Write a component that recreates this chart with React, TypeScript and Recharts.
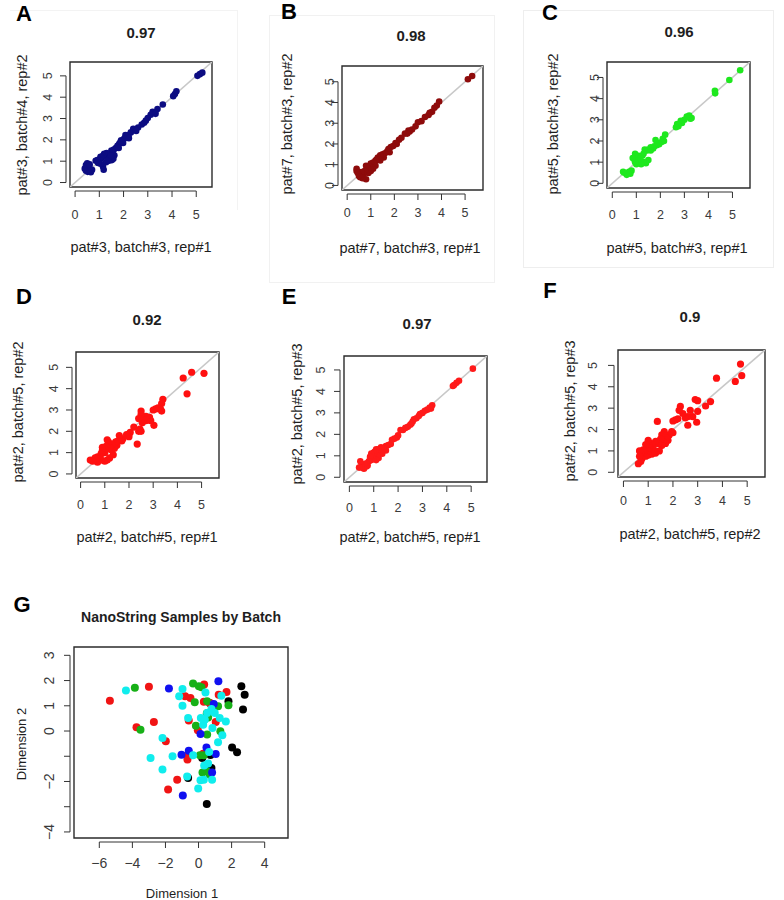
import React from "react";
import { ScatterChart, Scatter, XAxis, YAxis, ReferenceLine, ReferenceArea } from "recharts";

const FONT = '"Liberation Sans", Arial, Helvetica, sans-serif';

// replicate panels: [x (rep a), y (rep b)]
const ptsA: [number, number][] = [
  [5.05, 5.0], [5.15, 5.08], [5.25, 5.15],
  [4.05, 4.05], [4.12, 4.15], [4.18, 4.28],
  [3.62, 3.66], [3.4, 3.45], [3.3, 3.28], [3.2, 3.32], [3.12, 3.18], [3.0, 3.02], [2.92, 2.9],
  [2.85, 2.8], [2.75, 2.72], [2.6, 2.58], [2.5, 2.48], [2.4, 2.52], [2.3, 2.35], [2.2, 2.22],
  [2.15, 2.12], [2.08, 2.22], [2.02, 2.05], [1.98, 1.85], [1.9, 1.98], [1.82, 1.82], [1.75, 1.72],
  [1.68, 1.62], [1.6, 1.55], [1.55, 1.4], [1.5, 1.5], [1.45, 1.32], [1.42, 1.18], [1.35, 1.3],
  [1.3, 1.38], [1.25, 1.22], [1.2, 1.35], [1.15, 1.25], [1.1, 1.15], [1.05, 1.2], [1.0, 1.08],
  [0.92, 1.05], [0.85, 1.02], [1.52, 1.05], [1.58, 1.12], [1.4, 1.02], [1.28, 0.95], [1.15, 0.75],
  [1.18, 0.6], [1.05, 0.88], [0.95, 0.92], [0.5, 0.9], [0.45, 0.82], [0.58, 0.8], [0.4, 0.65],
  [0.45, 0.55], [0.52, 0.5], [0.62, 0.55], [0.7, 0.6], [0.65, 0.48], [0.6, 0.85], [1.62, 1.28],
  [1.8, 1.62], [2.52, 2.42], [3.32, 3.22], [2.22, 2.08], [1.88, 1.92], [1.35, 1.05], [1.48, 1.25],
];

const ptsB: [number, number][] = [
  [5.12, 5.12], [5.3, 5.28],
  [3.9, 4.05], [3.8, 3.85], [3.7, 3.75], [3.6, 3.55], [3.5, 3.5], [3.45, 3.4], [3.3, 3.3],
  [3.15, 3.1], [3.0, 3.05], [2.9, 2.85], [2.75, 2.7], [2.65, 2.6], [2.6, 2.65], [2.55, 2.5],
  [2.45, 2.5], [2.3, 2.3], [2.2, 2.2], [2.1, 2.0], [2.05, 2.05], [1.95, 1.9], [1.85, 1.85],
  [1.8, 1.6], [1.75, 1.75], [1.7, 1.65], [1.6, 1.55], [1.55, 1.35], [1.5, 1.5], [1.4, 1.45],
  [1.4, 1.2], [1.3, 1.35], [1.25, 1.25], [1.2, 1.2], [1.2, 0.95], [1.15, 1.0], [1.1, 1.1],
  [1.1, 0.8], [1.0, 1.05], [1.0, 0.9], [1.0, 0.7], [0.95, 0.9], [0.9, 0.8], [0.9, 0.6],
  [0.85, 0.85], [0.8, 0.95], [0.8, 0.3], [0.75, 0.7], [0.7, 0.55], [0.65, 0.35], [0.6, 0.5],
  [0.6, 0.65], [0.55, 0.4], [0.5, 0.45], [0.45, 0.6], [0.4, 0.7], [0.4, 0.8],
];

const ptsC: [number, number][] = [
  [5.32, 5.34], [4.87, 4.88], [4.27, 4.37], [4.28, 4.25],
  [3.3, 3.08], [3.25, 3.05], [3.2, 3.2], [3.1, 3.15], [3.0, 3.0], [2.9, 2.85], [2.85, 2.95],
  [2.75, 2.7], [2.7, 2.8], [2.65, 2.65],
  [2.2, 2.3], [2.15, 2.0], [2.1, 2.1], [2.05, 1.95], [1.95, 1.85], [1.9, 1.9], [1.85, 1.8],
  [1.8, 2.05], [1.75, 1.75], [1.7, 1.65], [1.6, 1.7], [1.6, 1.55], [1.5, 1.6], [1.5, 1.1],
  [1.45, 1.55], [1.4, 0.95], [1.35, 1.6], [1.3, 1.4], [1.3, 1.0], [1.25, 1.3], [1.2, 0.9],
  [1.15, 1.2], [1.1, 1.3], [1.05, 1.1], [1.0, 0.9], [0.95, 1.0], [0.95, 1.4], [0.9, 1.15],
  [0.85, 1.2], [0.8, 0.6], [0.75, 0.45], [0.7, 0.55], [0.65, 0.5], [0.6, 0.4], [0.5, 0.5],
  [0.45, 0.55],
];

const ptsD: [number, number][] = [
  [4.24, 4.5], [4.59, 4.77], [5.1, 4.72], [4.4, 3.76],
  [3.4, 3.5], [3.35, 3.3], [3.35, 2.95], [3.3, 3.05], [3.2, 3.1], [3.1, 3.05], [3.0, 3.0],
  [3.03, 2.28], [2.9, 2.5], [2.85, 2.65], [2.7, 2.7], [2.7, 2.5], [2.6, 2.55], [2.55, 2.4],
  [2.5, 2.95], [2.5, 2.8], [2.5, 2.0], [2.45, 2.1], [2.4, 2.6], [2.4, 2.0], [2.34, 1.4],
  [2.2, 2.2], [2.05, 1.95], [2.0, 1.75], [1.9, 1.85], [1.75, 1.65], [1.7, 1.55], [1.6, 1.8],
  [1.55, 1.55], [1.5, 1.35], [1.45, 1.5], [1.4, 1.2], [1.35, 0.9], [1.3, 1.4], [1.25, 1.15],
  [1.2, 1.25], [1.2, 0.75], [1.15, 1.5], [1.1, 1.6], [1.1, 0.65], [1.05, 1.3], [1.0, 1.15],
  [1.0, 1.0], [1.0, 0.6], [0.95, 1.0], [0.9, 1.25], [0.9, 1.1], [0.85, 0.95], [0.85, 0.65],
  [0.8, 0.8], [0.7, 0.8], [0.7, 0.55], [0.65, 0.7], [0.6, 0.75], [0.5, 0.6], [0.4, 0.65],
];

const ptsE: [number, number][] = [
  [5.07, 5.06], [4.5, 4.5], [4.4, 4.4], [4.3, 4.3], [4.25, 4.25],
  [3.4, 3.35], [3.35, 3.2], [3.3, 3.25], [3.2, 3.15], [3.1, 3.1], [3.0, 3.0], [2.9, 2.95],
  [2.85, 2.85], [2.75, 2.75], [2.65, 2.7], [2.6, 2.6], [2.55, 2.5], [2.5, 2.45], [2.4, 2.35],
  [2.3, 2.3], [2.2, 2.2], [2.1, 2.2], [2.0, 1.95], [1.95, 1.85], [1.85, 1.8], [1.75, 1.75],
  [1.7, 1.55], [1.6, 1.5], [1.5, 1.45], [1.5, 1.25], [1.4, 1.35], [1.35, 1.1], [1.3, 1.4],
  [1.2, 1.3], [1.2, 0.9], [1.15, 1.2], [1.15, 1.0], [1.1, 1.3], [1.1, 0.8], [1.05, 1.2],
  [1.0, 1.15], [1.0, 0.85], [0.95, 1.0], [0.9, 1.1], [0.9, 0.8], [0.85, 0.95], [0.8, 0.75],
  [0.75, 0.55], [0.7, 0.65], [0.7, 0.5], [0.6, 0.6], [0.6, 0.4], [0.5, 0.55], [0.5, 0.45],
  [0.45, 0.75], [0.4, 0.45],
];

const ptsF: [number, number][] = [
  [4.73, 5.06], [4.78, 4.52], [4.52, 4.25], [3.76, 4.4],
  [3.52, 3.31], [3.32, 3.1], [3.0, 3.35], [2.9, 3.4], [3.0, 2.85], [2.96, 2.34], [2.8, 2.6],
  [2.7, 2.9], [2.6, 2.6], [2.6, 2.2], [2.5, 2.55], [2.4, 2.75], [2.3, 3.08], [2.25, 2.9],
  [2.2, 2.5], [2.1, 2.45], [2.0, 2.4], [2.0, 1.85], [1.95, 1.9], [1.85, 1.75], [1.8, 1.5],
  [1.75, 1.6], [1.7, 1.35], [1.65, 1.9], [1.6, 1.45], [1.55, 1.75], [1.55, 1.25], [1.5, 1.55],
  [1.45, 1.0], [1.4, 1.35], [1.37, 2.38], [1.3, 1.45], [1.3, 0.9], [1.25, 1.0], [1.2, 1.2],
  [1.15, 0.85], [1.1, 1.35], [1.05, 1.15], [1.0, 1.5], [1.0, 1.0], [1.0, 0.8], [0.9, 1.3],
  [0.9, 0.75], [0.85, 1.0], [0.8, 1.05], [0.75, 0.65], [0.7, 0.9], [0.7, 0.5], [0.65, 1.0],
  [0.65, 0.75], [0.6, 0.4],
];

// MDS panel, by batch colour
const gBlack: [number, number][] = [
  [2.59, 1.77], [2.79, 1.44], [1.81, 1.18], [2.69, 0.85], [0.7, 1.1], [2.03, -0.65], [2.33, -0.84],
  [0.72, -0.95], [0.22, -1.07], [0.78, -1.47], [-0.63, -1.86], [0.5, -2.89],
];
const gRed: [number, number][] = [
  [-3.0, 1.75], [-5.36, 1.2], [-0.81, 1.38], [-0.49, 1.31], [0.34, 1.84], [1.69, 1.55],
  [1.22, 1.44], [0.32, 1.16], [0.68, 1.11], [-0.59, 0.42], [1.04, 0.36], [-0.04, 0.03],
  [-3.75, 0.15], [-2.7, 0.36], [-1.98, -0.41], [-0.67, -0.96], [-0.67, -1.13], [0.28, -0.9],
  [-1.29, -1.93], [-1.84, -2.32],
];
const gGreen: [number, number][] = [
  [-3.85, 1.71], [-0.33, 1.88], [0.02, 1.77], [0.18, 1.73], [-0.23, 1.14], [0.52, 1.18],
  [1.18, 0.98], [1.81, 1.02], [0.58, 0.54], [0.5, 0.7], [-0.16, 0.21], [0.52, -0.14], [1.32, -0.01],
  [-3.51, 0.05], [0.08, -0.96], [0.32, -0.96], [0.24, -1.64], [0.52, -1.6], [0.68, -1.73],
];
const gBlue: [number, number][] = [
  [-1.79, 1.69], [1.2, 1.97], [0.92, 1.07], [0.12, -0.12], [0.48, -0.65], [-0.59, -0.78],
  [1.04, -0.91], [-1.03, -0.94], [0.82, -1.64], [-0.95, -2.56],
];
const gCyan: [number, number][] = [
  [-4.39, 1.61], [-0.97, 1.67], [-1.17, 1.38], [-0.97, 1.0], [0.42, 1.53], [1.38, 1.4],
  [0.78, 0.87], [0.98, 0.71], [0.52, 0.71], [-0.63, 0.52], [0.14, 0.52], [0.38, 0.45],
  [0.28, 0.25], [1.28, 0.52], [1.65, 0.38], [0.84, 0.12], [1.44, -0.17], [1.18, -0.45],
  [-2.18, -0.28], [0.64, -0.83], [-0.33, -0.96], [-1.57, -1.0], [-2.9, -1.07], [0.58, -1.29],
  [0.34, -1.37], [0.82, -1.93], [0.32, -1.93], [0.12, -1.95], [-0.69, -1.8], [-2.18, -1.53],
  [-0.02, -2.28],
];

const repTicks = [0, 1, 2, 3, 4, 5];
const gXTicks = [-6, -4, -2, 0, 2, 4];
const gYTicks = [-4, -3, -2, -1, 0, 1, 2, 3];
const gYLabels = [-4, -2, 0, 1, 2, 3];

const toXY = (pts: [number, number][]) => pts.map(([x, y]) => ({ x, y }));
const fmt = (v: number) => (v < 0 ? "\u2212" + Math.abs(v) : String(v));

interface Series { pts: [number, number][]; color: string; r: number }
interface PanelCfg {
  box: [number, number, number, number];
  xDomain: [number, number];
  yDomain: [number, number];
  xTicks: number[];
  yTicks: number[];
  yLabels?: number[];
  xLabelGap: number;
  yLabelGap: number;
  tickFont: number;
  diag: boolean;
  series: Series[];
}

function Plot({ cfg }: { cfg: PanelCfg }) {
  const [x0, y0, x1, y1] = cfg.box;
  const bw = x1 - x0;
  const bh = y1 - y0;
  const M = 60;
  const gap = 4;
  const len = 6;
  const xs = cfg.xDomain[1] - cfg.xDomain[0];
  const ys = cfg.yDomain[1] - cfg.yDomain[0];
  const xAxisAt = cfg.yDomain[0] - (gap * ys) / bh;
  const yAxisAt = cfg.xDomain[0] - (gap * xs) / bw;
  const xt = cfg.xTicks;
  const yt = cfg.yTicks;

  const xTick = (p: any) => (
    <g>
      <line x1={p.x} x2={p.x} y1={p.y + gap} y2={p.y + gap + len} stroke="#333" strokeWidth={1} />
      <text x={p.x} y={p.y + cfg.xLabelGap} textAnchor="middle" dominantBaseline="central"
        fontSize={cfg.tickFont} fontFamily={FONT} fill="#3a3a3a">
        {fmt(p.payload.value)}
      </text>
    </g>
  );
  const yTick = (p: any) => {
    const show = !cfg.yLabels || cfg.yLabels.includes(p.payload.value);
    const tx = p.x - cfg.yLabelGap;
    return (
      <g>
        <line x1={p.x - gap} x2={p.x - gap - len} y1={p.y} y2={p.y} stroke="#333" strokeWidth={1} />
        {show && (
          <text x={tx} y={p.y} transform={`rotate(-90 ${tx} ${p.y})`} textAnchor="middle"
            dominantBaseline="central" fontSize={cfg.tickFont} fontFamily={FONT} fill="#3a3a3a">
            {fmt(p.payload.value)}
          </text>
        )}
      </g>
    );
  };

  return (
    <div style={{ position: "absolute", left: x0 - M, top: y0 - M }}>
      <ScatterChart width={bw + 2 * M} height={bh + 2 * M}
        margin={{ top: M, right: M, bottom: M - 40, left: M - 40 }}>
        <XAxis type="number" dataKey="x" domain={cfg.xDomain} allowDataOverflow ticks={xt} interval={0}
          height={40} tickSize={0} tickMargin={0} axisLine={false} tickLine={false} tick={xTick} />
        <YAxis type="number" dataKey="y" domain={cfg.yDomain} allowDataOverflow ticks={yt} interval={0}
          width={40} tickSize={0} tickMargin={0} axisLine={false} tickLine={false} tick={yTick} />
        {cfg.series.map((s, i) => (
          <Scatter key={i} data={toXY(s.pts)} fill={s.color} isAnimationActive={false}
            shape={(p: any) => <circle cx={p.cx} cy={p.cy} r={s.r} fill={s.color} />} />
        ))}
        {cfg.diag && (
          <ReferenceLine segment={[{ x: -1, y: -1 }, { x: 7, y: 7 }]} stroke="#c8c8c8"
            strokeWidth={1.6} ifOverflow="hidden" />
        )}
        <ReferenceLine segment={[{ x: xt[0], y: xAxisAt }, { x: xt[xt.length - 1], y: xAxisAt }]}
          stroke="#333" strokeWidth={1} ifOverflow="visible" />
        <ReferenceLine segment={[{ x: yAxisAt, y: yt[0] }, { x: yAxisAt, y: yt[yt.length - 1] }]}
          stroke="#333" strokeWidth={1} ifOverflow="visible" />
        <ReferenceArea x1={cfg.xDomain[0]} x2={cfg.xDomain[1]} y1={cfg.yDomain[0]} y2={cfg.yDomain[1]}
          fill="none" fillOpacity={0} stroke="#2b2b2b" strokeWidth={1.4} ifOverflow="visible" />
      </ScatterChart>
    </div>
  );
}

function Txt({ x, y, text, size, bold, rotate, color }: {
  x: number; y: number; text: string; size: number; bold?: boolean; rotate?: boolean; color?: string;
}) {
  return (
    <div style={{
      position: "absolute", left: x, top: y, whiteSpace: "nowrap", lineHeight: 1,
      transform: `translate(-50%, -50%)${rotate ? " rotate(-90deg)" : ""}`,
      fontFamily: FONT, fontSize: size, fontWeight: bold ? 700 : 400, color: color || "#1e1e1e",
    }}>{text}</div>
  );
}

const rep = (box: [number, number, number, number], dom: [number, number], xLabelGap: number,
  yLabelGap: number, pts: [number, number][], color: string, r: number): PanelCfg => ({
  box, xDomain: dom, yDomain: dom, xTicks: repTicks, yTicks: repTicks, xLabelGap, yLabelGap,
  tickFont: 12.5, diag: true, series: [{ pts, color, r }],
});

const panels: PanelCfg[] = [
  rep([70, 62, 212, 187], [-0.21, 5.65], 28, 22, ptsA, "#0c0c82", 3.3),
  rep([342, 66, 483, 190], [-0.22, 5.76], 23, 12, ptsB, "#8e0b0b", 3.3),
  rep([607, 62, 750, 188], [-0.22, 5.73], 27, 12, ptsC, "#1ee81e", 3.3),
  rep([76, 352, 219, 478], [-0.19, 5.72], 27, 22, ptsD, "#ff1010", 3.6),
  rep([344, 356, 487, 482], [-0.22, 5.65], 26, 23, ptsE, "#ff1a1a", 3.3),
  rep([618, 350, 765, 477], [-0.22, 5.72], 24, 25, ptsF, "#ff1010", 3.6),
  {
    box: [74, 647, 288, 838], xDomain: [-7.53, 5.41], yDomain: [-4.24, 3.33],
    xTicks: gXTicks, yTicks: gYTicks, yLabels: gYLabels, xLabelGap: 25, yLabelGap: 25,
    tickFont: 14, diag: false,
    series: [
      { pts: gBlack, color: "#000000", r: 4 },
      { pts: gRed, color: "#f01414", r: 4 },
      { pts: gGreen, color: "#17b017", r: 4 },
      { pts: gBlue, color: "#1010f0", r: 4 },
      { pts: gCyan, color: "#10eded", r: 4 },
    ],
  },
];

const titles = [
  { x: 141, y: 32, t: "0.97" }, { x: 411, y: 35, t: "0.98" }, { x: 679, y: 31, t: "0.96" },
  { x: 147, y: 319, t: "0.92" }, { x: 417, y: 323, t: "0.97" }, { x: 690, y: 316, t: "0.9" },
];
const xLabels = [
  { x: 141, y: 247, t: "pat#3, batch#3, rep#1" }, { x: 410, y: 248, t: "pat#7, batch#3, rep#1" },
  { x: 677, y: 248, t: "pat#5, batch#3, rep#1" }, { x: 147, y: 537, t: "pat#2, batch#5, rep#1" },
  { x: 410, y: 537, t: "pat#2, batch#5, rep#1" }, { x: 690, y: 534, t: "pat#2, batch#5, rep#2" },
];
const yLabels = [
  { x: 22, y: 125, t: "pat#3, batch#4, rep#2" }, { x: 287, y: 124, t: "pat#7, batch#3, rep#2" },
  { x: 553, y: 124, t: "pat#5, batch#3, rep#2" }, { x: 18, y: 412, t: "pat#2, batch#5, rep#2" },
  { x: 297, y: 414, t: "pat#2, batch#5, rep#3" }, { x: 570, y: 411, t: "pat#2, batch#5, rep#3" },
];
const letters = [
  { x: 24, y: 14, t: "A" }, { x: 289, y: 12, t: "B" }, { x: 550, y: 13, t: "C" },
  { x: 24, y: 297, t: "D" }, { x: 289, y: 297, t: "E" }, { x: 550, y: 291, t: "F" },
  { x: 22, y: 605, t: "G" },
];

export default function App() {
  return (
    <div style={{ position: "absolute", left: 0, top: 0, width: 784, height: 900, background: "#fff", overflow: "hidden" }}>
      {/* faint screenshot frames */}
      <div style={{ position: "absolute", left: 269, top: 15, width: 226, height: 268, border: "1px solid #f1f1f1", boxSizing: "border-box" }} />
      <div style={{ position: "absolute", left: 523, top: 10, width: 251, height: 258, border: "1px solid #eeeeee", boxSizing: "border-box" }} />
      <div style={{ position: "absolute", left: 10, top: 10, width: 228, height: 200, borderTop: "1px solid #f3f3f3", borderRight: "1px solid #f3f3f3", boxSizing: "border-box" }} />
      {panels.map((p, i) => <Plot key={i} cfg={p} />)}
      {titles.map((d, i) => <Txt key={"t" + i} x={d.x} y={d.y} text={d.t} size={15} bold />)}
      {xLabels.map((d, i) => <Txt key={"x" + i} x={d.x} y={d.y} text={d.t} size={14.5} />)}
      {yLabels.map((d, i) => <Txt key={"y" + i} x={d.x} y={d.y} text={d.t} size={14.5} rotate />)}
      {letters.map((d, i) => <Txt key={"l" + i} x={d.x} y={d.y} text={d.t} size={22} bold color="#000" />)}
      <Txt x={181} y={617} text="NanoString Samples by Batch" size={14} bold />
      <Txt x={182} y={893} text="Dimension 1" size={13} />
      <Txt x={21} y={744} text="Dimension 2" size={13} rotate />
    </div>
  );
}
